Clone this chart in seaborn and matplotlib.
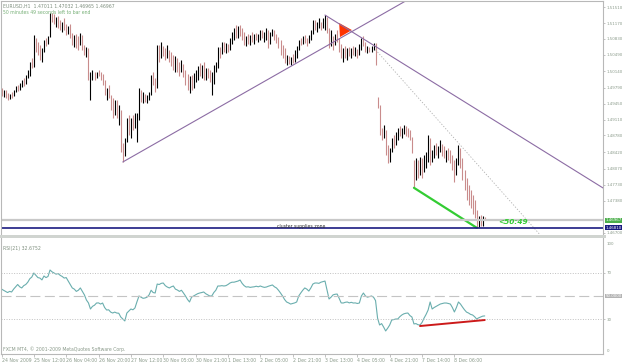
import numpy as np
import matplotlib
matplotlib.use("Agg")
import matplotlib.pyplot as plt
import matplotlib.transforms as mtransforms
from matplotlib.patches import Rectangle
import seaborn as sns

# ---------------- data (EURUSD H1) ----------------
high = [
1.4979,1.4974,1.4974,1.4968,1.4966,1.4970,1.4974,1.4983,1.4985,1.4989,
1.4996,1.5000,1.5006,1.5017,1.5034,1.5042,1.5091,1.5085,1.5077,1.5070,
1.5064,1.5081,1.5085,1.5089,1.5138,1.5138,1.5136,1.5130,1.5132,1.5123,
1.5119,1.5128,1.5115,1.5111,1.5115,1.5096,1.5091,1.5094,1.5089,1.5096,
1.5091,1.5070,1.5066,1.5064,1.5013,1.5017,1.5013,1.5013,1.5017,1.5013,
1.5008,1.4996,1.4979,1.4985,1.4964,1.4957,1.4953,1.4953,1.4942,1.4932,
1.4861,1.4872,1.4915,1.4921,1.4915,1.4921,1.4925,1.4925,1.4979,1.4974,
1.4970,1.4966,1.4964,1.4970,1.5006,1.5013,1.5000,1.5070,1.5070,1.5077,
1.5068,1.5064,1.5070,1.5060,1.5055,1.5049,1.5047,1.5042,1.5034,1.5038,
1.5030,1.5017,1.5008,1.5004,1.5006,1.5010,1.5017,1.5025,1.5032,1.5028,
1.5034,1.5021,1.5021,1.5017,1.5013,1.5028,1.5034,1.5066,1.5066,1.5077,
1.5077,1.5074,1.5072,1.5085,1.5098,1.5106,1.5113,1.5111,1.5113,1.5106,
1.5098,1.5089,1.5094,1.5091,1.5098,1.5094,1.5096,1.5094,1.5102,1.5102,
1.5098,1.5106,1.5102,1.5098,1.5104,1.5102,1.5094,1.5087,1.5081,1.5070,
1.5064,1.5049,1.5047,1.5045,1.5051,1.5060,1.5068,1.5081,1.5085,1.5089,
1.5091,1.5085,1.5091,1.5102,1.5123,1.5123,1.5119,1.5128,1.5119,1.5128,
1.5134,1.5130,1.5106,1.5102,1.5089,1.5094,1.5102,1.5085,1.5072,1.5064,
1.5068,1.5064,1.5066,1.5064,1.5068,1.5066,1.5062,1.5072,1.5085,1.5089,
1.5077,1.5068,1.5066,1.5068,1.5074,1.5074,1.4959,1.4942,1.4893,1.4900,
1.4889,1.4857,1.4851,1.4872,1.4878,1.4885,1.4893,1.4898,1.4893,1.4900,
1.4898,1.4893,1.4889,1.4874,1.4825,1.4829,1.4825,1.4832,1.4829,1.4836,
1.4842,1.4878,1.4872,1.4846,1.4857,1.4861,1.4855,1.4868,1.4859,1.4855,
1.4846,1.4851,1.4846,1.4836,1.4825,1.4829,1.4857,1.4851,1.4829,1.4804,
1.4787,1.4772,1.4761,1.4751,1.4740,1.4719,1.4706,1.4708,1.4706,1.47032]

low = [
1.4961,1.4959,1.4957,1.4953,1.4955,1.4957,1.4961,1.4970,1.4972,1.4974,
1.4981,1.4983,1.4987,1.5000,1.5004,1.5021,1.5023,1.5055,1.5049,1.5038,
1.5034,1.5055,1.5068,1.5072,1.5087,1.5119,1.5115,1.5108,1.5106,1.5102,
1.5098,1.5102,1.5091,1.5094,1.5085,1.5070,1.5066,1.5064,1.5060,1.5070,
1.5060,1.5049,1.5045,1.4996,1.4953,1.4996,1.4996,1.5000,1.5004,1.4996,
1.4985,1.4964,1.4953,1.4957,1.4932,1.4915,1.4921,1.4915,1.4900,1.4842,
1.4821,1.4834,1.4863,1.4878,1.4872,1.4889,1.4893,1.4863,1.4910,1.4949,
1.4947,1.4949,1.4947,1.4953,1.4964,1.4985,1.4970,1.4979,1.5034,1.5042,
1.5047,1.5038,1.5042,1.5034,1.5025,1.5017,1.5013,1.5013,1.5004,1.5013,
1.5002,1.4985,1.4974,1.4968,1.4974,1.4979,1.4991,1.4996,1.5004,1.5000,
1.4996,1.4996,1.5000,1.4991,1.4964,1.4987,1.5013,1.5021,1.5042,1.5051,
1.5055,1.5053,1.5055,1.5060,1.5072,1.5081,1.5085,1.5085,1.5089,1.5081,
1.5070,1.5068,1.5072,1.5070,1.5077,1.5072,1.5081,1.5077,1.5081,1.5085,
1.5077,1.5081,1.5064,1.5072,1.5089,1.5081,1.5074,1.5064,1.5049,1.5042,
1.5032,1.5028,1.5030,1.5028,1.5032,1.5034,1.5042,1.5060,1.5070,1.5072,
1.5074,1.5068,1.5074,1.5081,1.5094,1.5102,1.5098,1.5106,1.5102,1.5106,
1.5102,1.5096,1.5064,1.5068,1.5060,1.5070,1.5077,1.5055,1.5042,1.5034,
1.5042,1.5038,1.5047,1.5042,1.5049,1.5047,1.5042,1.5049,1.5060,1.5068,
1.5055,1.5053,1.5055,1.5055,1.5060,1.5028,1.4936,1.4878,1.4868,1.4872,
1.4836,1.4819,1.4821,1.4842,1.4851,1.4857,1.4868,1.4876,1.4872,1.4880,
1.4876,1.4874,1.4868,1.4840,1.4766,1.4783,1.4787,1.4793,1.4787,1.4800,
1.4808,1.4821,1.4815,1.4821,1.4829,1.4836,1.4829,1.4842,1.4834,1.4829,
1.4821,1.4825,1.4819,1.4804,1.4778,1.4793,1.4815,1.4808,1.4783,1.4761,
1.4740,1.4730,1.4723,1.4710,1.4702,1.4681,1.4683,1.4685,1.4685,1.46965]

close = [
1.4964,1.4972,1.4959,1.4957,1.4964,1.4961,1.4972,1.4981,1.4976,1.4987,
1.4993,1.4987,1.5004,1.5015,1.5032,1.5025,1.5085,1.5064,1.5055,1.5042,
1.5060,1.5077,1.5074,1.5087,1.5134,1.5126,1.5119,1.5128,1.5113,1.5106,
1.5117,1.5108,1.5096,1.5108,1.5089,1.5074,1.5087,1.5070,1.5066,1.5091,
1.5064,1.5055,1.5062,1.5000,1.5006,1.5013,1.5000,1.5010,1.5006,1.4998,
1.4987,1.4970,1.4974,1.4961,1.4936,1.4921,1.4949,1.4921,1.4938,1.4851,
1.4836,1.4868,1.4906,1.4893,1.4910,1.4900,1.4919,1.4921,1.4970,1.4957,
1.4964,1.4953,1.4959,1.4968,1.5000,1.4991,1.4979,1.5064,1.5049,1.5070,
1.5055,1.5045,1.5060,1.5042,1.5034,1.5023,1.5042,1.5017,1.5008,1.5034,
1.5006,1.4991,1.4979,1.4996,1.4983,1.5004,1.5010,1.5021,1.5013,1.5023,
1.5004,1.5017,1.5006,1.4996,1.4996,1.5021,1.5030,1.5060,1.5049,1.5070,
1.5064,1.5070,1.5062,1.5081,1.5094,1.5102,1.5091,1.5106,1.5098,1.5085,
1.5077,1.5085,1.5081,1.5087,1.5085,1.5089,1.5085,1.5089,1.5098,1.5089,
1.5094,1.5102,1.5072,1.5094,1.5102,1.5087,1.5081,1.5070,1.5055,1.5049,
1.5038,1.5045,1.5034,1.5042,1.5038,1.5055,1.5064,1.5077,1.5074,1.5085,
1.5081,1.5074,1.5087,1.5098,1.5119,1.5108,1.5115,1.5123,1.5106,1.5123,
1.5130,1.5102,1.5070,1.5091,1.5072,1.5085,1.5081,1.5060,1.5049,1.5060,
1.5051,1.5060,1.5053,1.5060,1.5055,1.5062,1.5049,1.5068,1.5081,1.5074,
1.5060,1.5064,1.5060,1.5064,1.5066,1.5038,1.4957,1.4885,1.4878,1.4893,
1.4846,1.4829,1.4846,1.4868,1.4863,1.4880,1.4889,1.4885,1.4891,1.4895,
1.4885,1.4880,1.4872,1.4846,1.4819,1.4825,1.4793,1.4825,1.4800,1.4829,
1.4836,1.4872,1.4825,1.4842,1.4851,1.4846,1.4851,1.4863,1.4842,1.4838,
1.4842,1.4834,1.4825,1.4808,1.4787,1.4825,1.4851,1.4815,1.4791,1.4770,
1.4749,1.4740,1.4730,1.4719,1.4708,1.4687,1.4702,1.4689,1.4702,1.46967]
first_open = 1.4975

rsi = [
56,55,54,53,54,53.5,56,58,60,58,
57,59,60,62,65,66.5,70,68,66,65.6,
64,67.4,66,67,72.6,71,70,69,69.5,68,
67,65.6,66,63,60,57,56,54,55,57,
54,51,46.5,44,38.7,41,42,43.9,44,43,
43.9,40,37.8,38,36,35.2,36,35.2,35,31.7,
30,28.3,35.2,37,38.7,38,39.6,45,50,49,
48,48.3,49,51,55,53,52.6,60.4,60,61,
61.3,59,57.8,57,58,58.7,56,55.2,54,55,
52.6,50,47,44.8,49,50,51,52,52.6,53,
53.5,52,51,50,50,53,55,58.7,58.7,59,
58.7,59,60,61.3,62,62,62.5,63,63.9,61,
59,57.8,58,57.5,57.8,58,58.5,58,58.7,58,
57.5,57.8,58.5,59,59.6,58,57,55,52.6,50,
47,44.8,44,43,43.5,44,44.8,50,52.6,55,
57,56,54.3,57,60.4,61.3,61.3,61,62,62.5,
63,55,47.4,49,51,51.5,51.7,48,44,43.9,
44.5,44.8,44,44.5,43.9,44,43.5,43.9,50,52.6,
50,49,49.5,50,49,46,30.8,24.8,26,23,
19.6,22,24.8,29.1,29.5,30,30,32,33.5,34.5,
35,35.2,33,31.7,25.7,26,25,24.8,27,30.8,
34,37.8,44.8,38.7,40,41,42,43,43.5,43.9,
43.9,43.5,43,40,36.1,40,44.8,43,40.4,38,
36,35.2,34,33.5,32,30,31,31.7,32.5,32.6752]

date_tick_bars = [0, 16, 32, 48, 64, 80, 96, 112, 128, 144, 160, 176, 192, 208, 224]
date_labels = ['24 Nov 2009', '25 Nov 12:00', '26 Nov 04:00', '26 Nov 20:00',
               '27 Nov 12:00', '30 Nov 05:00', '30 Nov 21:00', '1 Dec 13:00',
               '2 Dec 05:00', '2 Dec 21:00', '3 Dec 13:00', '4 Dec 05:00',
               '4 Dec 21:00', '7 Dec 14:00', '8 Dec 06:00']
price_ticks = [1.51510, 1.51170, 1.50830, 1.50490, 1.50140, 1.49790, 1.49450,
               1.49110, 1.48780, 1.48420, 1.48070, 1.47730, 1.47380, 1.46700]
rsi_ticks = [70, 30]
rsi_levels = [70, 50, 30]

# drawing objects (bar index, price)
uptrend_bars, uptrend_prices = [60, 215], [1.4821, 1.5201]
downtrend_bars, downtrend_prices = [160, 300], [1.5134, 1.4759]
dotted_bars, dotted_prices = [185, 268], [1.5060, 1.4658]
green_bars, green_prices = [204, 235], [1.4766, 1.4681]
tri_bars, tri_prices = [167.0, 173.3, 167.4], [1.5117, 1.5102, 1.5087]
bid_price = 1.46967
support_price = 1.46810
div_bars, div_rsi = [207, 239], [23.9, 29.1]

# ---------------- figure ----------------
sns.set_style("white")
plt.rcParams['font.family'] = ['DejaVu Sans']

W, H = 625.0, 363.0
fig = plt.figure(figsize=(W / 100, H / 100), dpi=100)
fig.patch.set_facecolor('white')


def rect(x0, y0, x1, y1):
    return [x0 / W, 1 - y1 / H, (x1 - x0) / W, (y1 - y0) / H]


ax = fig.add_axes(rect(1, 1, 603, 234))
ax2 = fig.add_axes(rect(1, 238, 603, 354))

FS = 3.3     # left texts / dates
FR = 2.85    # right scale labels
LBL = '#8a9a8a'
SP = '#b8b8b8'
bars = np.arange(len(high))

# price bars
opens = [first_open] + close[:-1]
cols = ['#000000' if c >= o else '#c98c8c' for c, o in zip(close, opens)]
ax.vlines(bars, low, high, colors=cols, linewidth=0.8)

# objects
ax.plot(uptrend_bars, uptrend_prices, color='#8c6ca4', lw=0.8)
ax.plot(downtrend_bars, downtrend_prices, color='#8c6ca4', lw=0.8)
ax.plot(dotted_bars, dotted_prices, color='#b0b0b0', lw=0.6, ls=(0, (1.5, 2)))
ax.plot(green_bars, green_prices, color='#33cc33', lw=1.6)
ax.fill(tri_bars, tri_prices, color='#ff3300', lw=0)
ax.axhline(bid_price, color='#c8c8c8', lw=1.6)
ax.axhline(support_price, color='#1a1a80', lw=1.2)

ax.text(136.5, 1.46845, 'cluster supplies zone', fontsize=FS, color='#303030',
        va='center', ha='left')
ax.text(245.5, 1.46925, '<50:49', fontsize=5.3, color='#33cc33', fontweight='bold',
        fontstyle='italic', va='center', ha='left')

ax.set_xlim(-0.25, 297.5)
ax.set_ylim(1.46676, 1.51639)
ax.set_xticks([])
ax.yaxis.tick_right()
ax.set_yticks(price_ticks)
ax.set_yticklabels(['%.5f' % p for p in price_ticks])
ax.tick_params(axis='y', right=True, length=1.5, width=0.6, color=SP, pad=1,
               labelsize=FR, labelcolor=LBL)
for s in ['left', 'top', 'right']:
    ax.spines[s].set_color(SP)
    ax.spines[s].set_linewidth(0.8)
ax.spines['bottom'].set_visible(False)

blend = mtransforms.blended_transform_factory(ax.transAxes, ax.transData)
ax.text(1.0045, bid_price, '%.5f' % bid_price, transform=blend, fontsize=FR,
        color='white', va='center', ha='left',
        bbox=dict(boxstyle='square,pad=0.12', fc='#4caf4c', ec='none'))
ax.text(1.0045, support_price, '%.5f' % support_price, transform=blend, fontsize=FR,
        color='white', va='center', ha='left',
        bbox=dict(boxstyle='square,pad=0.12', fc='#1a1a80', ec='none'))

ax.text(0.003, 0.988, 'EURUSD,H1  %.5f %.5f %.5f %.5f' % (1.47011, 1.47032, 1.46965, 1.46967),
        transform=ax.transAxes, fontsize=FS, color='#7f8f7f', va='top', ha='left')
ax.text(0.003, 0.96, '50 minutes 49 seconds left to bar end', transform=ax.transAxes,
        fontsize=FS, color='#78b078', va='top', ha='left')

# separator band
fig.add_artist(Rectangle((0, 1 - 237.5 / H), 606 / W, 2.5 / H, transform=fig.transFigure,
                         fc='#d0d4d0', ec='none'))

# RSI panel
sns.lineplot(x=bars, y=rsi, ax=ax2, color='#6aaeae', linewidth=0.8)
for lv in rsi_levels:
    if lv == 50:
        ax2.axhline(lv, color='#c4c4c4', lw=0.8, ls=(0, (9, 4)))
    else:
        ax2.axhline(lv, color='#c0c0c0', lw=0.7, ls=(0, (1, 1.6)))
ax2.plot(div_bars, div_rsi, color='#cc1a1a', lw=1.4)

ax2.set_xlim(-0.25, 297.5)
ax2.set_ylim(-0.43, 100.43)
ax2.yaxis.tick_right()
ax2.set_yticks(rsi_ticks)
ax2.set_yticklabels([str(t) for t in rsi_ticks])
ax2.tick_params(axis='y', right=True, length=1.5, width=0.6, color=SP, pad=1,
                labelsize=FR, labelcolor=LBL)
ax2.set_xticks(date_tick_bars)
ax2.set_xticklabels(date_labels, ha='left')
ax2.tick_params(axis='x', bottom=True, length=2, width=0.6, color=SP, pad=1,
                labelsize=FS, labelcolor=LBL)
ax2.set_xlabel('')
ax2.set_ylabel('')
for s in ['left', 'bottom', 'right']:
    ax2.spines[s].set_color(SP)
    ax2.spines[s].set_linewidth(0.8)
ax2.spines['top'].set_visible(False)

blend2 = mtransforms.blended_transform_factory(ax2.transAxes, ax2.transData)
ax2.text(1.006, 95.5, '100', transform=blend2, fontsize=FR, color=LBL, va='center', ha='left')
ax2.text(1.006, 2.0, '0', transform=blend2, fontsize=FR, color=LBL, va='center', ha='left')
ax2.text(1.0045, 50, '50.0000', transform=blend2, fontsize=FR, color='white', va='center',
         ha='left', bbox=dict(boxstyle='square,pad=0.12', fc='#b4b4b4', ec='none'))
ax2.text(0.003, 0.91, 'RSI(21) 32.6752', transform=ax2.transAxes, fontsize=FS,
         color='#7f8f7f', va='center', ha='left')
ax2.text(0.003, 0.045, 'FXCM MT4, \u00a9 2001-2009 MetaQuotes Software Corp.',
         transform=ax2.transAxes, fontsize=FS, color='#8a9a8a', va='center', ha='left')

fig.savefig('out.png', dpi=100, facecolor='white')
